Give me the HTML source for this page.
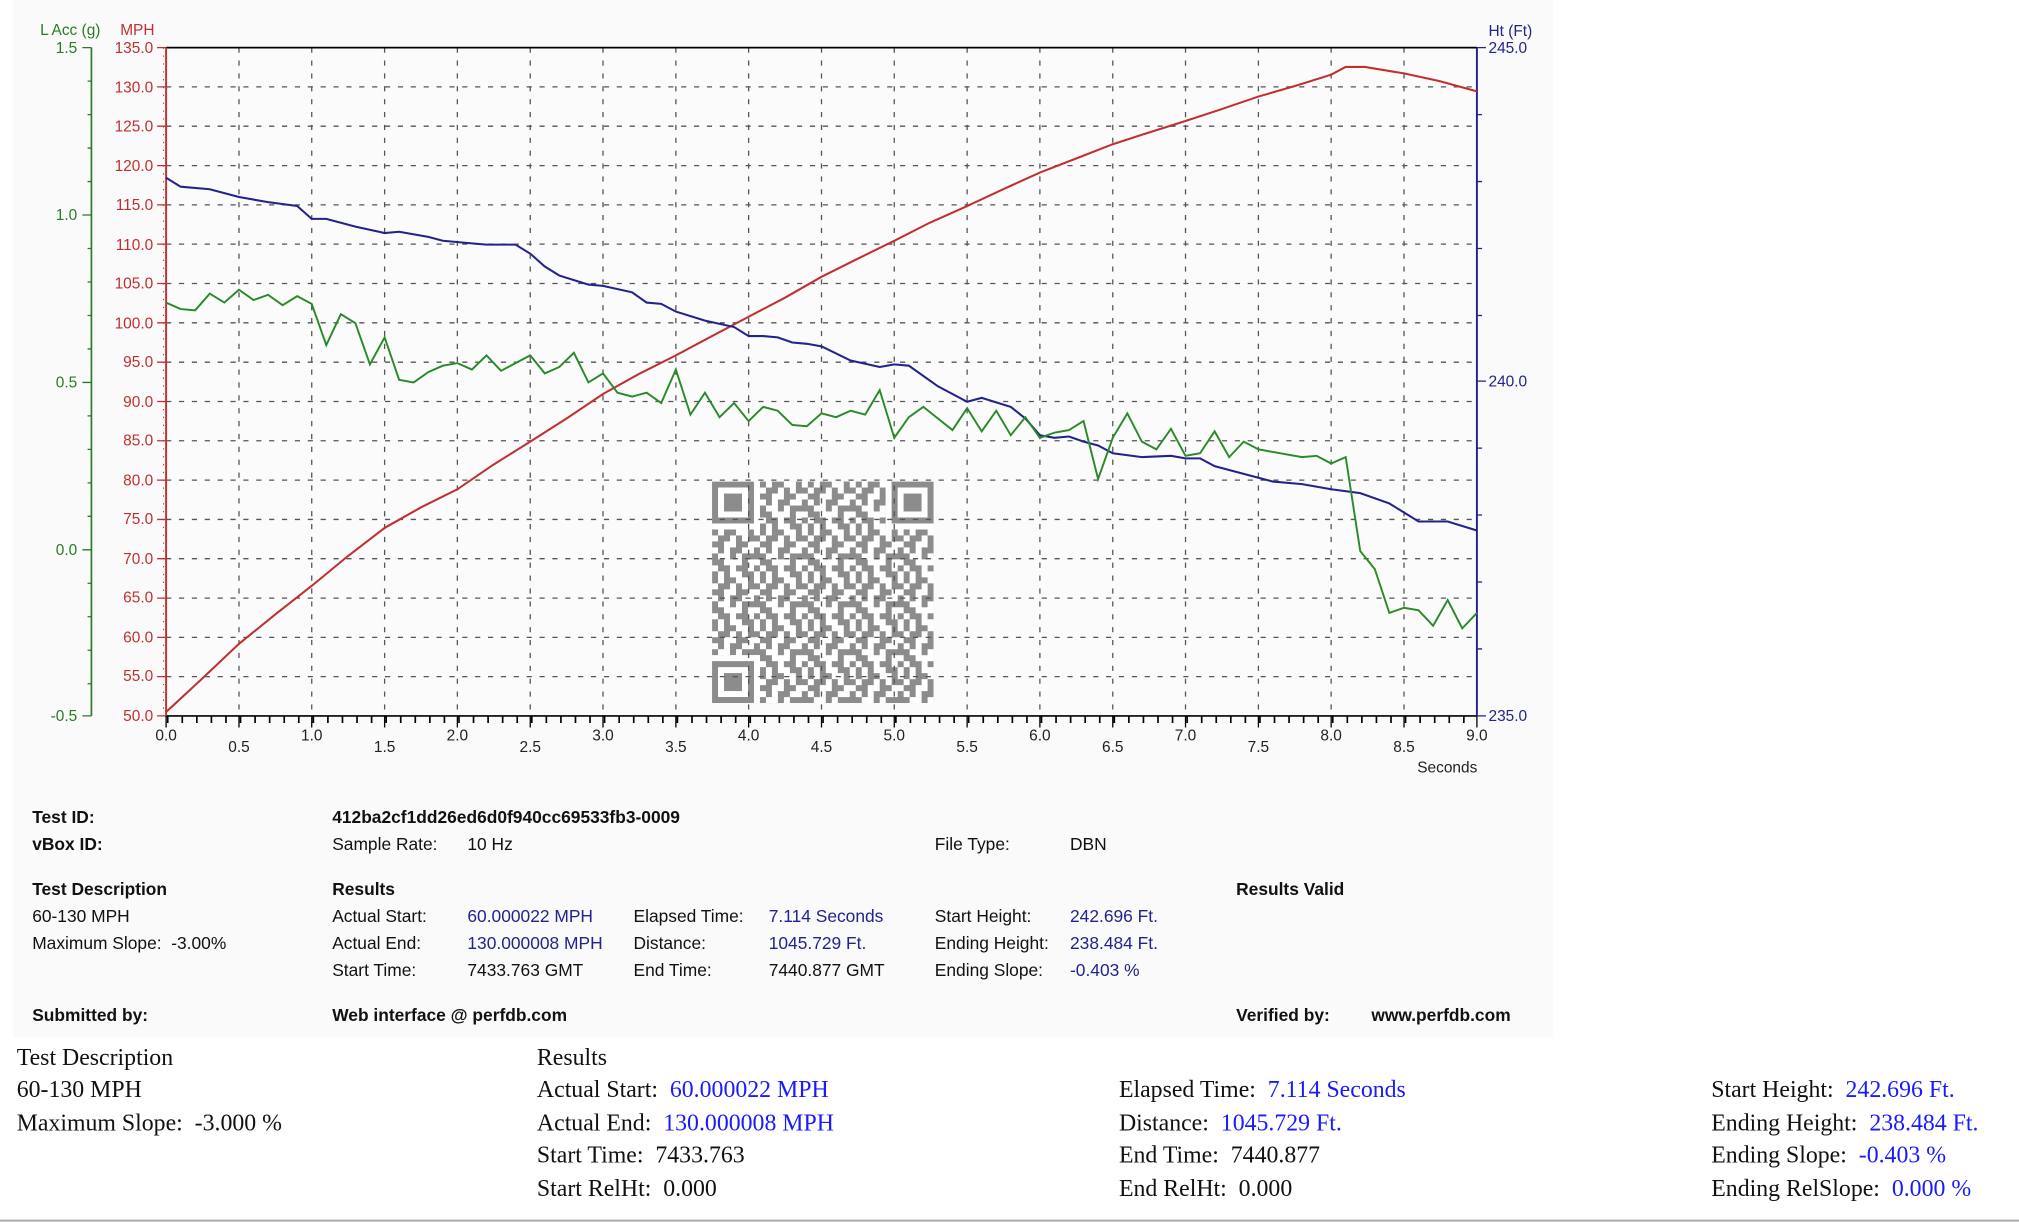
<!DOCTYPE html>
<html><head><meta charset="utf-8"><style>
html,body{margin:0;padding:0;background:#fff;}
svg{display:block;}
text{white-space:pre;}
</style></head><body>
<svg width="2019" height="1224" viewBox="0 0 1568 950.6" preserveAspectRatio="none" xmlns="http://www.w3.org/2000/svg" font-family="Liberation Sans, sans-serif" xml:space="preserve">
<defs>
<pattern id="qr" x="553" y="374" width="37.2" height="37.2" patternUnits="userSpaceOnUse">
<g fill="#8c8c8c" transform="scale(4.65)">
<path d="M0 0h1v1h-1zM2 0h2v1h-2zM6 0h1v1h-1zM1 1h2v1h-2zM4 1h1v1h-1zM6 1h2v1h-2zM0 2h2v1h-2zM4 2h2v1h-2zM1 3h1v1h-1zM3 3h2v1h-2zM7 3h1v1h-1zM0 4h1v1h-1zM3 4h1v1h-1zM5 4h3v1h-3zM0 5h2v1h-2zM5 5h1v1h-1zM1 6h2v1h-2zM4 6h2v1h-2zM7 6h1v1h-1zM0 7h1v1h-1zM2 7h1v1h-1zM5 7h2v1h-2z"/>
</g>
</pattern>
</defs>
<rect x="10" y="0" width="1196" height="806" fill="#fafafa"/>
<rect x="129" y="37" width="1018" height="519" fill="#fbfbfb"/>
<g>
<rect x="553" y="374" width="172" height="172" fill="#fff"/>
<rect x="553" y="374" width="172" height="172" fill="url(#qr)"/>
<g fill="#fff"><rect x="553" y="374" width="37.2" height="37.2"/><rect x="687.8" y="374" width="37.2" height="37.2"/><rect x="553" y="508.8" width="37.2" height="37.2"/></g>
<g fill="#8c8c8c">
<path d="M553 374h32.55v32.55h-32.55zM557.65 378.65v23.25h23.25v-23.25z" fill-rule="evenodd"/>
<rect x="562.3" y="383.3" width="13.95" height="13.95"/>
<path d="M692.45 374h32.55v32.55h-32.55zM697.1 378.65v23.25h23.25v-23.25z" fill-rule="evenodd"/>
<rect x="701.75" y="383.3" width="13.95" height="13.95"/>
<path d="M553 513.45h32.55v32.55h-32.55zM557.65 518.1v23.25h23.25v-23.25z" fill-rule="evenodd"/>
<rect x="562.3" y="522.75" width="13.95" height="13.95"/>
</g>
</g>
<g stroke="#555" stroke-width="1" stroke-dasharray="4,6">
<path d="M185.6 37V556M242.1 37V556M298.7 37V556M355.2 37V556M411.8 37V556M468.3 37V556M524.9 37V556M581.4 37V556M638 37V556M694.5 37V556M751.1 37V556M807.6 37V556M864.2 37V556M920.7 37V556M977.3 37V556M1033.8 37V556M1090.4 37V556"/>
<path d="M129 67.5H1147M129 98H1147M129 128.6H1147M129 159.1H1147M129 189.6H1147M129 220.2H1147M129 250.7H1147M129 281.3H1147M129 311.8H1147M129 342.3H1147M129 372.9H1147M129 403.4H1147M129 433.9H1147M129 464.5H1147M129 495H1147M129 525.5H1147"/>
</g>
<line x1="129" y1="37" x2="1147" y2="37" stroke="#000" stroke-width="1.3"/>
<line x1="129" y1="556" x2="1147" y2="556" stroke="#000" stroke-width="1.3"/>
<line x1="129" y1="37" x2="129" y2="556" stroke="#c03030" stroke-width="1.5"/>
<line x1="1147" y1="37" x2="1147" y2="556" stroke="#23238c" stroke-width="1.5"/>
<line x1="71" y1="37" x2="71" y2="556" stroke="#2a7a2a" stroke-width="1.3"/>
<g stroke="#2a7a2a" stroke-width="1">
<path d="M64 37H71M64 167H71M64 297H71M64 427H71M64 556H71"/>
<path d="M68 63H71M68 89H71M68 115H71M68 141H71M68 193H71M68 219H71M68 245H71M68 271H71M68 323H71M68 349H71M68 375H71M68 401H71M68 453H71M68 479H71M68 505H71M68 531H71"/>
</g>
<g stroke="#c03030" stroke-width="1">
<path d="M122 37H129M122 67.5H129M122 98H129M122 128.6H129M122 159.1H129M122 189.6H129M122 220.2H129M122 250.7H129M122 281.3H129M122 311.8H129M122 342.3H129M122 372.9H129M122 403.4H129M122 433.9H129M122 464.5H129M122 495H129M122 525.5H129M122 556H129"/>
</g>
<g stroke="#c03030" stroke-width="0.8" stroke-dasharray="1,5.1">
<line x1="127" y1="37" x2="127" y2="556"/>
</g>
<g stroke="#23238c" stroke-width="1">
<path d="M1147 37H1154M1147 296H1154M1147 556H1154M1147 89H1151M1147 141H1151M1147 193H1151M1147 245H1151M1147 348H1151M1147 400H1151M1147 452H1151M1147 504H1151"/>
</g>
<g stroke="#000" stroke-width="1">
<path d="M129 556V565M185.6 556V565M242.1 556V565M298.7 556V565M355.2 556V565M411.8 556V565M468.3 556V565M524.9 556V565M581.4 556V565M638 556V565M694.5 556V565M751.1 556V565M807.6 556V565M864.2 556V565M920.7 556V565M977.3 556V565M1033.8 556V565M1090.4 556V565M1147 556V565"/>
</g>
<line x1="129" y1="559" x2="1147" y2="559" stroke="#000" stroke-width="5" stroke-dasharray="1.3,10.01" stroke-dashoffset="-0.6"/>
<g font-size="12" fill="#2a7a2a" text-anchor="end">
<text x="78" y="27">L Acc (g)</text>
<text x="60" y="41">1.5</text><text x="60" y="171">1.0</text><text x="60" y="301">0.5</text><text x="60" y="431">0.0</text><text x="60" y="560">-0.5</text>
</g>
<g font-size="12" fill="#c03030" text-anchor="end">
<text x="120" y="27">MPH</text>
<text x="119" y="41">135.0</text><text x="119" y="72">130.0</text><text x="119" y="102">125.0</text><text x="119" y="133">120.0</text><text x="119" y="163">115.0</text><text x="119" y="194">110.0</text><text x="119" y="224">105.0</text><text x="119" y="255">100.0</text><text x="119" y="285">95.0</text><text x="119" y="316">90.0</text><text x="119" y="346">85.0</text><text x="119" y="377">80.0</text><text x="119" y="407">75.0</text><text x="119" y="438">70.0</text><text x="119" y="468">65.0</text><text x="119" y="499">60.0</text><text x="119" y="529">55.0</text><text x="119" y="560">50.0</text>
</g>
<g font-size="12" fill="#23238c">
<text x="1156" y="28">Ht (Ft)</text>
<text x="1156" y="41">245.0</text><text x="1156" y="300">240.0</text><text x="1156" y="560">235.0</text>
</g>
<g font-size="12" fill="#222" text-anchor="middle">
<text x="129" y="575">0.0</text><text x="185.6" y="584">0.5</text><text x="242.1" y="575">1.0</text><text x="298.7" y="584">1.5</text><text x="355.2" y="575">2.0</text><text x="411.8" y="584">2.5</text><text x="468.3" y="575">3.0</text><text x="524.9" y="584">3.5</text><text x="581.4" y="575">4.0</text><text x="638" y="584">4.5</text><text x="694.5" y="575">5.0</text><text x="751.1" y="584">5.5</text><text x="807.6" y="575">6.0</text><text x="864.2" y="584">6.5</text><text x="920.7" y="575">7.0</text><text x="977.3" y="584">7.5</text><text x="1033.8" y="575">8.0</text><text x="1090.4" y="584">8.5</text><text x="1147" y="575">9.0</text>
<text x="1124" y="600">Seconds</text>
</g>
<polyline fill="none" stroke="#c03030" stroke-width="1.6" points="129,553 157,527 185.6,500 214,477 242.1,455 270,432 298.7,410 327,394 355.2,380 383,361 411.8,343 440,325 468.3,306 497,290 524.9,276 553,261 581.4,246 610,231 638,215 666,201 694.5,187 722,173 751.1,160 779,147 807.6,134 836,123 864.2,112 892,103 920.7,94 948,85 977.3,75 1005,67 1033.8,58 1045,52 1060,52 1090.4,57 1118,63 1147,71"/>
<polyline fill="none" stroke="#23238c" stroke-width="1.6" points="129,138 140.3,145 162.9,147 185.6,153 208.2,157 230.8,160 242.1,170 253.4,170 276,176 298.7,181 310,180 332.6,184 343.9,187 366.5,189 377.8,190 400.4,190 411.8,197 423.1,207 434.4,214 457,221 468.3,222 490.9,227 502.2,235 513.5,236 524.9,242 547.5,249 570.1,254 581.4,261 592.7,261 604,262 615.3,266 626.6,267 638,269 660.6,280 683.2,285 694.5,283 705.8,284 728.4,300 751.1,312 762.4,309 785,316 796.3,325 807.6,338 818.9,340 830.2,339 841.5,343 852.8,346 864.2,352 886.8,355 909.4,354 920.7,356 932,356 943.3,362 965.9,368 988.6,374 1011.2,376 1033.8,380 1056.4,383 1079,391 1101.7,405 1124.3,405 1147,412"/>
<polyline fill="none" stroke="#2a8a2a" stroke-width="1.5" points="129,235 140.3,240 151.6,241 162.9,228 174.2,235 185.6,225 196.9,233 208.2,229 219.5,237 230.8,230 242.1,236 253.4,268 264.7,244 276,251 287.3,283 298.7,262 310,295 321.3,297 332.6,289 343.9,284 355.2,282 366.5,287 377.8,276 389.1,288 400.4,282 411.8,276 423.1,290 434.4,285 445.7,274 457,297 468.3,290 479.6,305 490.9,308 502.2,305 513.5,313 524.9,287 536.2,322 547.5,305 558.8,324 570.1,313 581.4,327 592.7,316 604,319 615.3,330 626.6,331 638,321 649.3,324 660.6,319 671.9,322 683.2,303 694.5,340 705.8,324 717.1,316 728.4,325 739.7,334 751.1,317 762.4,335 773.7,319 785,338 796.3,324 807.6,340 818.9,336 830.2,334 841.5,327 852.8,372 864.2,340 875.5,321 886.8,343 898.1,349 909.4,333 920.7,354 932,352 943.3,335 954.6,355 965.9,343 977.3,349 988.6,351 999.9,353 1011.2,355 1022.5,354 1033.8,360 1045.1,355 1056.4,428 1067.7,442 1079,476 1090.4,472 1101.7,474 1113,486 1124.3,466 1135.6,488 1147,476"/>
<g font-size="13.5" fill="#111">
<g font-weight="bold">
<text x="25" y="639">Test ID:</text>
<text x="25" y="660">vBox ID:</text>
<text x="258" y="639">412ba2cf1dd26ed6d0f940cc69533fb3-0009</text>
<text x="25" y="695">Test Description</text>
<text x="258" y="695">Results</text>
<text x="960" y="695">Results Valid</text>
<text x="25" y="793">Submitted by:</text>
<text x="258" y="793">Web interface @ perfdb.com</text>
<text x="960" y="793">Verified by:</text>
<text x="1065" y="793">www.perfdb.com</text>
</g>
<text x="258" y="660">Sample Rate:</text><text x="363" y="660">10 Hz</text>
<text x="726" y="660">File Type:</text><text x="831" y="660">DBN</text>
<text x="25" y="716">60-130 MPH</text>
<text x="25" y="737">Maximum Slope:  -3.00%</text>
<text x="258" y="716">Actual Start:</text><text x="258" y="737">Actual End:</text><text x="258" y="758">Start Time:</text>
<text x="363" y="758">7433.763 GMT</text>
<text x="492" y="716">Elapsed Time:</text><text x="492" y="737">Distance:</text><text x="492" y="758">End Time:</text>
<text x="597" y="758">7440.877 GMT</text>
<text x="726" y="716">Start Height:</text><text x="726" y="737">Ending Height:</text><text x="726" y="758">Ending Slope:</text>
<g fill="#23238c">
<text x="363" y="716">60.000022 MPH</text><text x="363" y="737">130.000008 MPH</text>
<text x="597" y="716">7.114 Seconds</text><text x="597" y="737">1045.729 Ft.</text>
<text x="831" y="716">242.696 Ft.</text><text x="831" y="737">238.484 Ft.</text><text x="831" y="758">-0.403 %</text>
</g>
</g>
<g font-family="Liberation Serif, serif" font-size="18.5" fill="#111">
<text x="13" y="827">Test Description</text>
<text x="13" y="852">60-130 MPH</text>
<text x="13" y="878">Maximum Slope:  -3.000 %</text>
<text x="417" y="827">Results</text>
<text x="417" y="852">Actual Start:  <tspan fill="#1a1aff">60.000022 MPH</tspan></text>
<text x="417" y="878">Actual End:  <tspan fill="#1a1aff">130.000008 MPH</tspan></text>
<text x="417" y="903">Start Time:  7433.763</text>
<text x="417" y="929">Start RelHt:  0.000</text>
<text x="869" y="852">Elapsed Time:  <tspan fill="#1a1aff">7.114 Seconds</tspan></text>
<text x="869" y="878">Distance:  <tspan fill="#1a1aff">1045.729 Ft.</tspan></text>
<text x="869" y="903">End Time:  7440.877</text>
<text x="869" y="929">End RelHt:  0.000</text>
<text x="1329" y="852">Start Height:  <tspan fill="#1a1aff">242.696 Ft.</tspan></text>
<text x="1329" y="878">Ending Height:  <tspan fill="#1a1aff">238.484 Ft.</tspan></text>
<text x="1329" y="903">Ending Slope:  <tspan fill="#1a1aff">-0.403 %</tspan></text>
<text x="1329" y="929">Ending RelSlope:  <tspan fill="#1a1aff">0.000 %</tspan></text>
</g>
<line x1="0" y1="948" x2="1568" y2="948" stroke="#aaa" stroke-width="1.5"/>
</svg>
</body></html>
